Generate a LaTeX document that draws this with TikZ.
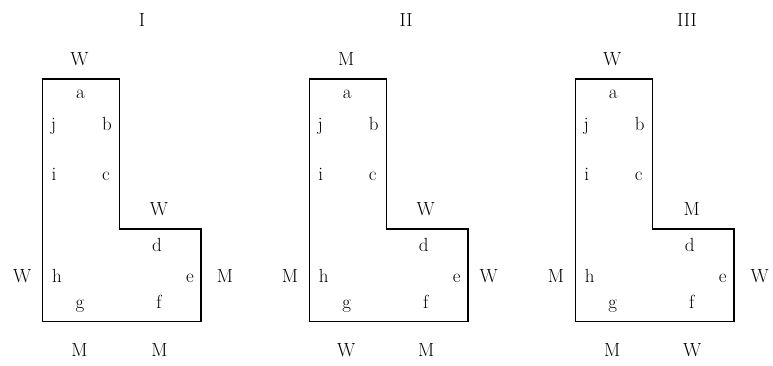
\documentclass[tikz,border=0pt]{standalone}
\begin{document}
\begin{tikzpicture}[x=1pt,y=-1pt,
  lbl/.style={anchor=base,inner sep=0pt,font=\fontsize{19}{22}\selectfont},
  outline/.style={draw=black,line width=1.4pt,line join=miter}]
\useasboundingbox (0,0) rectangle (773,365);
% panel macro via foreach: left x, title x, title, top, step, left, right, bottom1, bottom2, right label offset
\foreach \L/\T/\tt/\ta/\st/\lf/\rt/\bA/\bB/\ro [count=\k] in
  {42.5/142/I/W/W/W/M/M/M/24,
   309.3/406/II/M/W/M/W/W/M/21,
   575.3/687/III/W/M/M/W/M/W/26}{
  \begin{scope}[xshift=\L]
    \coordinate (p1-\k) at (0,79);
    \coordinate (p2-\k) at (77,79);
    \coordinate (p3-\k) at (77,229);
    \coordinate (p4-\k) at (158.5,229);
    \coordinate (p5-\k) at (158.5,321.7);
    \coordinate (p6-\k) at (0,321.7);
    \draw[outline] (p1-\k) -- (p2-\k) -- (p3-\k) -- (p4-\k) -- (p5-\k) -- (p6-\k) -- cycle;
    \node[lbl] (ta-\k) at (37,65) {\ta};
    \node[lbl] (a-\k) at (38,98) {a};
    \node[lbl] (j-\k) at (11,130) {j};
    \node[lbl] (b-\k) at (64.5,130) {b};
    \node[lbl] (i-\k) at (11.5,180) {i};
    \node[lbl] (c-\k) at (63.5,180) {c};
    \node[lbl] (st-\k) at (116.5,215) {\st};
    \node[lbl] (d-\k) at (114.5,251.5) {d};
    \node[lbl,anchor=base east] (lf-\k) at (-11,282.5) {\lf};
    \node[lbl] (h-\k) at (14.5,282.5) {h};
    \node[lbl] (e-\k) at (147.5,282.5) {e};
    \node[lbl] (rt-\k) at (158.5+\ro,282.5) {\rt};
    \node[lbl] (g-\k) at (37.5,308.5) {g};
    \node[lbl] (f-\k) at (116.5,308.5) {f};
    \node[lbl] (bA-\k) at (37,356) {\bA};
    \node[lbl] (bB-\k) at (117,356) {\bB};
  \end{scope}
  \node[lbl] (title-\k) at (\T,26.5) {\tt};
}
\end{tikzpicture}
\end{document}
